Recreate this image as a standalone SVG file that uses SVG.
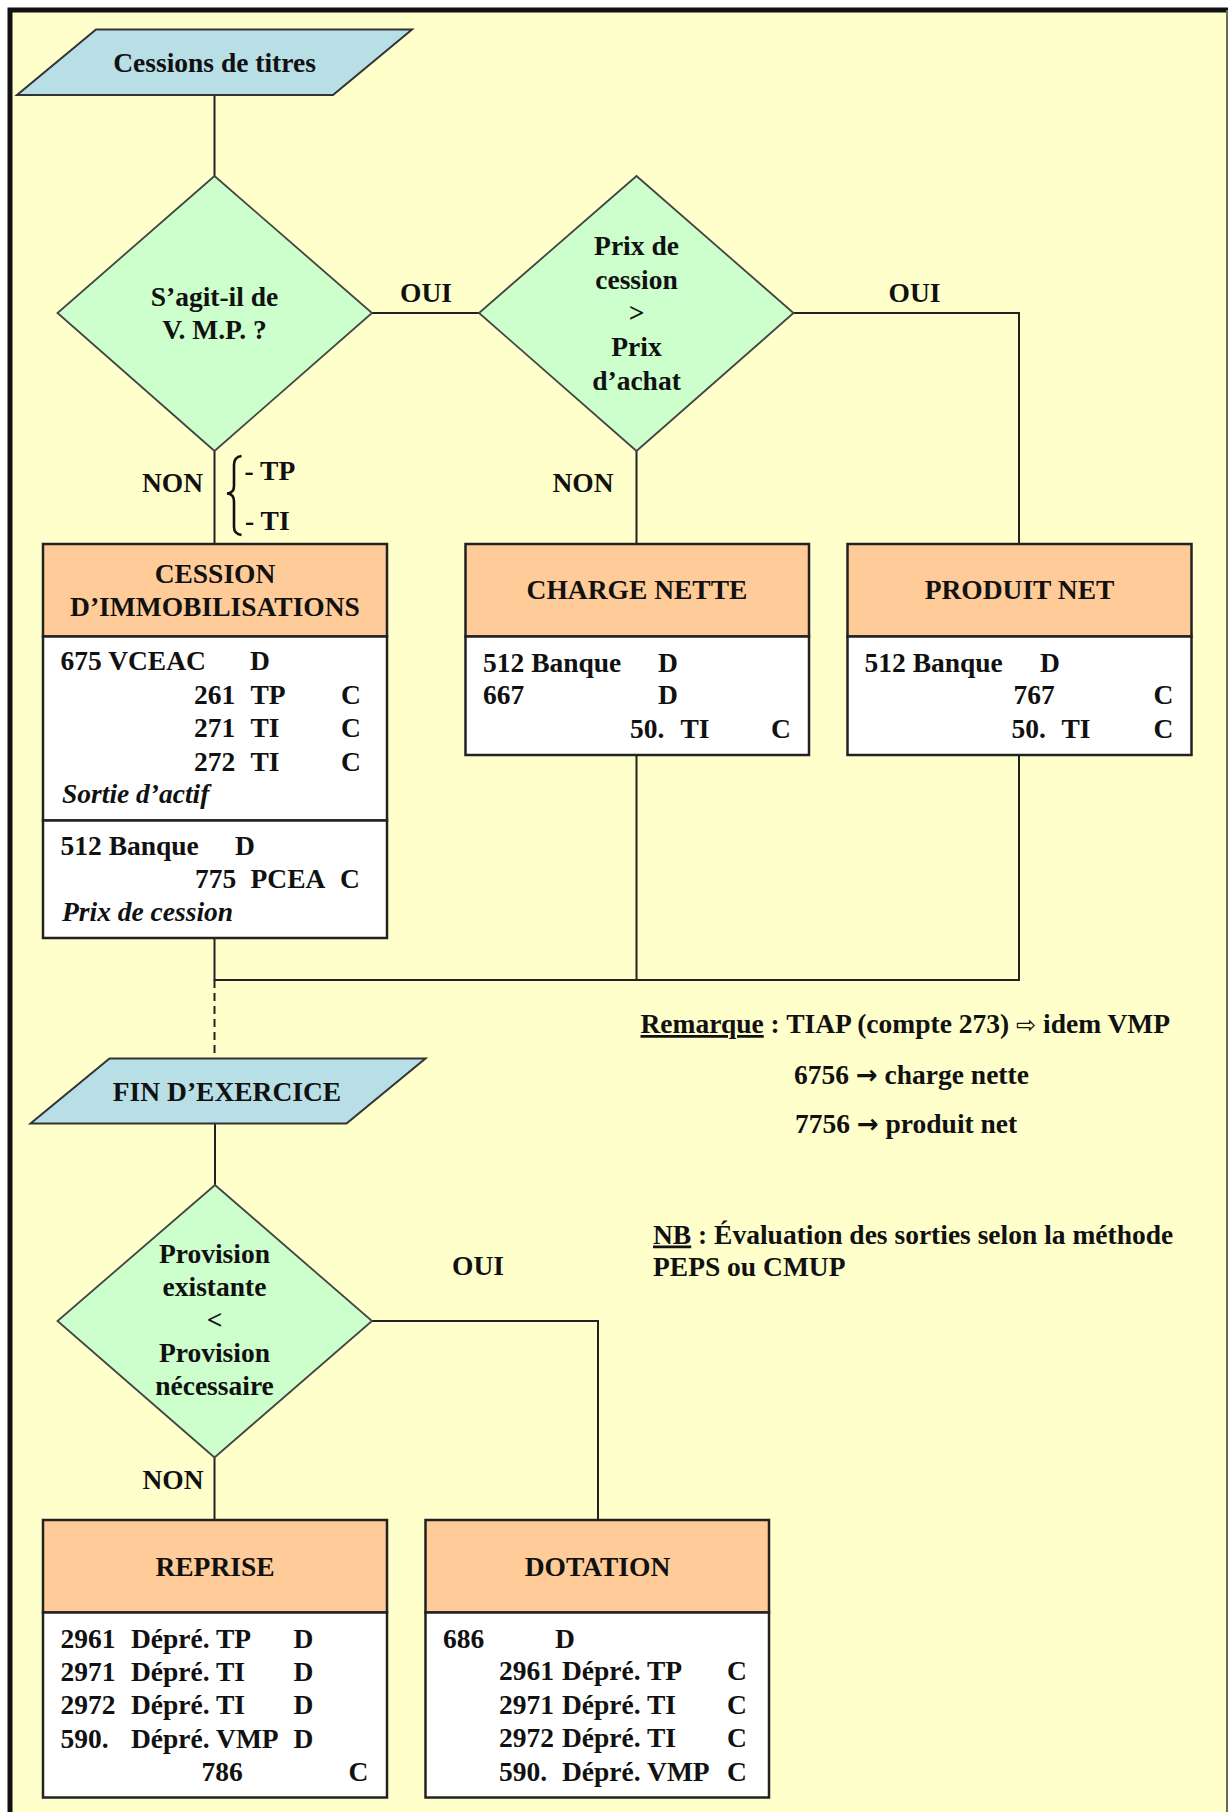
<svg xmlns="http://www.w3.org/2000/svg" width="1228" height="1812" viewBox="0 0 1228 1812">
<style>
.t{font-family:"Liberation Serif","Times New Roman",serif;font-size:27.5px;font-weight:bold;fill:#111}
.c{text-anchor:middle}
.i{font-style:italic}
.u{text-decoration:underline}
.ar{font-family:"DejaVu Sans",sans-serif;font-weight:bold;font-size:26px}
.wa{font-family:"DejaVu Sans",sans-serif;font-weight:normal;font-size:24px}
.io{fill:#B8DEE6;stroke:#333;stroke-width:2}
.dec{fill:#CCFFCC;stroke:#444;stroke-width:1.8}
.hd{fill:#FFCC99;stroke:#222;stroke-width:2.5}
.bd{fill:#FFFFFF;stroke:#222;stroke-width:2.5}
.ln{fill:none;stroke:#222;stroke-width:2}
</style>
<rect x="0" y="0" width="1228" height="1812" fill="#FFFFFF"/>
<rect x="10" y="10" width="1217" height="1802" fill="#FFFFCC"/>
<path d="M10,1812 V10 H1228" fill="none" stroke="#111" stroke-width="5"/>
<line x1="1227" y1="10" x2="1227" y2="1812" stroke="#6b6b55" stroke-width="2"/>

<g id="connectors">
<path class="ln" d="M214.5,95 V176"/>
<path class="ln" d="M372,313 H479"/>
<path class="ln" d="M793.5,313 H1019 V544"/>
<path class="ln" d="M214.5,451 V544"/>
<path class="ln" d="M636.5,451 V544"/>
<path class="ln" d="M214.5,938 V980 H1019 V755"/>
<path class="ln" d="M636.5,755 V980"/>
<path class="ln" d="M214.5,980 V1058.5" stroke-dasharray="8,5"/>
<path class="ln" d="M215,1123.5 V1185"/>
<path class="ln" d="M372,1321 H598 V1520"/>
<path class="ln" d="M214.5,1457.5 V1520"/>
</g>

<g id="n-cessions">
<polygon class="io" points="96,29.5 412,29.5 333,95 17,95"/>
<text class="t c" x="214.5" y="72">Cessions de titres</text>
</g>

<g id="n-vmp">
<polygon class="dec" points="214.5,176 372,313 214.5,451 57.5,313"/>
<text class="t c" x="214.5" y="306">S’agit-il de</text>
<text class="t c" x="214.5" y="339">V. M.P. ?</text>
</g>

<g id="n-prix">
<polygon class="dec" points="636.5,176 793.5,313 636.5,451 479,313"/>
<text class="t c" x="636.5" y="255">Prix de</text>
<text class="t c" x="636.5" y="289">cession</text>
<text class="t c" x="636.5" y="322">&gt;</text>
<text class="t c" x="636.5" y="356">Prix</text>
<text class="t c" x="636.5" y="390">d’achat</text>
</g>

<g id="labels-top">
<text class="t c" x="426" y="302">OUI</text>
<text class="t c" x="914.5" y="302">OUI</text>
<text class="t" x="203" y="492" text-anchor="end">NON</text>
<text class="t c" x="583" y="492">NON</text>
<path d="M241.5,456 Q234,457 234,465 V486 Q234,493 227,493.5 Q234,494 234,501 V527 Q234,534 241.5,535" fill="none" stroke="#111" stroke-width="2.6"/>
<text class="t" x="244.5" y="480">- TP</text>
<text class="t" x="245" y="529.5">- TI</text>
</g>

<g id="n-cession-immo">
<rect class="hd" x="43" y="544" width="344" height="92.5"/>
<rect class="bd" x="43" y="636.5" width="344" height="184"/>
<rect class="bd" x="43" y="820.5" width="344" height="117.5"/>
<text class="t c" x="215" y="582.5">CESSION</text>
<text class="t c" x="215" y="616">D’IMMOBILISATIONS</text>
<text class="t" x="60.5" y="669.5">675 VCEAC</text>
<text class="t" x="250" y="669.5">D</text>
<text class="t" x="194" y="704">261</text><text class="t" x="250.5" y="704">TP</text><text class="t" x="341" y="704">C</text>
<text class="t" x="194" y="737">271</text><text class="t" x="250.5" y="737">TI</text><text class="t" x="341" y="737">C</text>
<text class="t" x="194" y="770.5">272</text><text class="t" x="250.5" y="770.5">TI</text><text class="t" x="341" y="770.5">C</text>
<text class="t i" x="62" y="802.5">Sortie d’actif</text>
<text class="t" x="60.5" y="855">512 Banque</text>
<text class="t" x="235" y="855">D</text>
<text class="t" x="195" y="888">775</text><text class="t" x="250.5" y="888">PCEA</text><text class="t" x="340" y="888">C</text>
<text class="t i" x="62" y="920.5">Prix de cession</text>
</g>

<g id="n-charge-nette">
<rect class="hd" x="465.5" y="544" width="343.5" height="92.5"/>
<rect class="bd" x="465.5" y="636.5" width="343.5" height="118.5"/>
<text class="t c" x="637" y="598.5">CHARGE NETTE</text>
<text class="t" x="483" y="671.5">512 Banque</text><text class="t" x="658" y="671.5">D</text>
<text class="t" x="483" y="704">667</text><text class="t" x="658" y="704">D</text>
<text class="t" x="630" y="737.5">50.</text><text class="t" x="680.5" y="737.5">TI</text><text class="t" x="771" y="737.5">C</text>
</g>

<g id="n-produit-net">
<rect class="hd" x="847.5" y="544" width="344" height="92.5"/>
<rect class="bd" x="847.5" y="636.5" width="344" height="118.5"/>
<text class="t c" x="1019.5" y="598.5">PRODUIT NET</text>
<text class="t" x="864.5" y="671.5">512 Banque</text><text class="t" x="1040" y="671.5">D</text>
<text class="t" x="1013.5" y="704">767</text><text class="t" x="1153.5" y="704">C</text>
<text class="t" x="1011.5" y="737.5">50.</text><text class="t" x="1061.5" y="737.5">TI</text><text class="t" x="1153.5" y="737.5">C</text>
</g>

<g id="notes">
<text class="t" x="640.5" y="1033"><tspan class="u">Remarque</tspan> : TIAP (compte 273) <tspan class="wa">⇨</tspan> idem VMP</text>
<text class="t" x="794" y="1083.5">6756 <tspan class="ar">→</tspan> charge nette</text>
<text class="t" x="795" y="1133">7756 <tspan class="ar">→</tspan> produit net</text>
<text class="t" x="653" y="1243.5"><tspan class="u">NB</tspan> : Évaluation des sorties selon la méthode</text>
<text class="t" x="653" y="1275.5">PEPS ou CMUP</text>
</g>

<g id="n-fin-exercice">
<polygon class="io" points="109.5,1058.5 425.5,1058.5 346.5,1123.5 30.5,1123.5"/>
<text class="t c" x="227" y="1101">FIN D’EXERCICE</text>
</g>

<g id="n-provision">
<polygon class="dec" points="215,1185 372,1321 214.5,1457.5 57.5,1321"/>
<text class="t c" x="214.5" y="1263">Provision</text>
<text class="t c" x="214.5" y="1296">existante</text>
<text class="t c" x="214.5" y="1329">&lt;</text>
<text class="t c" x="214.5" y="1362">Provision</text>
<text class="t c" x="214.5" y="1395">nécessaire</text>
</g>

<g id="labels-bottom">
<text class="t c" x="478" y="1275">OUI</text>
<text class="t" x="203.5" y="1488.5" text-anchor="end">NON</text>
</g>

<g id="n-reprise">
<rect class="hd" x="43" y="1520" width="344" height="92.5"/>
<rect class="bd" x="43" y="1612.5" width="344" height="185"/>
<text class="t c" x="215" y="1576">REPRISE</text>
<text class="t" x="60.5" y="1647.5">2961</text><text class="t" x="131" y="1647.5">Dépré. TP</text><text class="t" x="293.5" y="1647.5">D</text>
<text class="t" x="60.5" y="1680.5">2971</text><text class="t" x="131" y="1680.5">Dépré. TI</text><text class="t" x="293.5" y="1680.5">D</text>
<text class="t" x="60.5" y="1714">2972</text><text class="t" x="131" y="1714">Dépré. TI</text><text class="t" x="293.5" y="1714">D</text>
<text class="t" x="60.5" y="1747.5">590.</text><text class="t" x="131" y="1747.5">Dépré. VMP</text><text class="t" x="293.5" y="1747.5">D</text>
<text class="t" x="201.5" y="1781">786</text><text class="t" x="348.5" y="1781">C</text>
</g>

<g id="n-dotation">
<rect class="hd" x="425.5" y="1520" width="343.5" height="92.5"/>
<rect class="bd" x="425.5" y="1612.5" width="343.5" height="185"/>
<text class="t c" x="597.5" y="1576">DOTATION</text>
<text class="t" x="443" y="1647.5">686</text><text class="t" x="555" y="1647.5">D</text>
<text class="t" x="499" y="1680">2961</text><text class="t" x="562" y="1680">Dépré. TP</text><text class="t" x="727" y="1680">C</text>
<text class="t" x="499" y="1713.5">2971</text><text class="t" x="562" y="1713.5">Dépré. TI</text><text class="t" x="727" y="1713.5">C</text>
<text class="t" x="499" y="1747">2972</text><text class="t" x="562" y="1747">Dépré. TI</text><text class="t" x="727" y="1747">C</text>
<text class="t" x="499" y="1781">590.</text><text class="t" x="562" y="1781">Dépré. VMP</text><text class="t" x="727" y="1781">C</text>
</g>
</svg>
